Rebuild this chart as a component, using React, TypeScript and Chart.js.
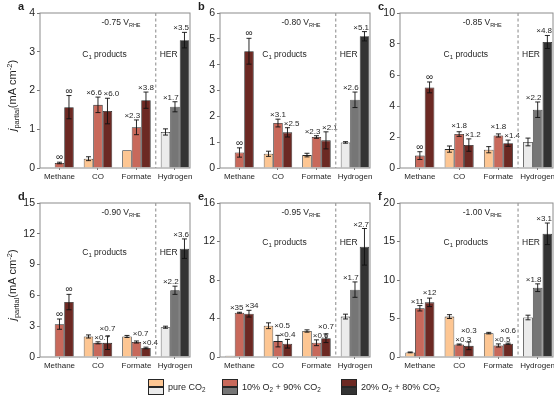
import { useEffect, useRef } from "react"
import { Chart, registerables } from "chart.js"

Chart.register(...registerables)

const FONT = '"Liberation Sans", Arial, Helvetica, sans-serif'
const INK = "#1f1f1f"

const products = ["Methane", "CO", "Formate", "Hydrogen"]
const potentials = ["-0.75", "-0.80", "-0.85", "-0.90", "-0.95", "-1.00"]
const panelLetters = ["a", "b", "c", "d", "e", "f"]
const yMax = [4, 6, 10, 15, 16, 20]
const yStep = [1, 1, 2, 3, 4, 5]

// partial current densities (mA cm-2), one row per panel, columns follow `products`
const pureCO2 = [
  [0, 0.24, 0.46, 0.93],
  [0, 0.55, 0.5, 0.99],
  [0, 1.22, 1.18, 1.68],
  [0, 2.0, 2.0, 2.9],
  [0.13, 3.25, 2.7, 4.2],
  [0.6, 5.25, 3.1, 5.13],
]
const pureCO2Err = [
  [0, 0.05, 0, 0.08],
  [0, 0.1, 0.07, 0.03],
  [0, 0.2, 0.2, 0.25],
  [0, 0.15, 0.1, 0.1],
  [0, 0.3, 0.12, 0.25],
  [0.05, 0.25, 0.1, 0.3],
]
const o2Ten = [
  [0.13, 1.63, 1.05, 1.58],
  [0.6, 1.74, 1.2, 2.64],
  [0.8, 2.19, 2.1, 3.76],
  [3.2, 1.38, 1.46, 6.5],
  [4.6, 1.65, 1.48, 7.0],
  [6.33, 1.62, 1.5, 9.0],
]
const o2TenErr = [
  [0.02, 0.2, 0.19, 0.13],
  [0.18, 0.15, 0.05, 0.3],
  [0.25, 0.15, 0.1, 0.5],
  [0.5, 0.1, 0.1, 0.4],
  [0.05, 0.6, 0.3, 0.8],
  [0.35, 0.07, 0.2, 0.5],
]
const o2Twenty = [
  [1.57, 1.47, 1.75, 3.3],
  [4.52, 1.38, 1.07, 5.1],
  [5.2, 1.48, 1.6, 8.13],
  [5.35, 1.38, 0.88, 10.55],
  [4.5, 1.38, 1.95, 11.45],
  [7.1, 1.45, 1.72, 16.0],
]
const o2TwentyErr = [
  [0.3, 0.33, 0.21, 0.2],
  [0.5, 0.18, 0.33, 0.18],
  [0.35, 0.4, 0.2, 0.42],
  [0.75, 0.65, 0.08, 0.95],
  [0.35, 0.45, 0.45, 1.9],
  [0.55, 0.5, 0.08, 1.4],
]
// enhancement factors printed above the O2-containing bars
const o2TenRatio = [
  ["∞", "×6.6", "×2.3", "×1.7"],
  ["∞", "×3.1", "×2.3", "×2.6"],
  ["∞", "×1.8", "×1.8", "×2.2"],
  ["∞", "×0.7", "×0.7", "×2.2"],
  ["×35", "×0.5", "×0.6", "×1.7"],
  ["×11", "×0.3", "×0.5", "×1.8"],
]
const o2TwentyRatio = [
  ["∞", "×6.0", "×3.8", "×3.5"],
  ["∞", "×2.5", "×2.1", "×5.1"],
  ["∞", "×1.2", "×1.4", "×4.8"],
  ["∞", "×0.7", "×0.4", "×3.6"],
  ["×34", "×0.4", "×0.7", "×2.7"],
  ["×12", "×0.3", "×0.6", "×3.1"],
]

const PEACH = "#FDC693"
const SALMON = "#C8695B"
const MAROON = "#6C2923"
const LIGHT_GRAY = "#EBEBEB"
const MID_GRAY = "#767676"
const DARK_GRAY = "#333333"

// plot-area rectangles in page pixels
const panelBoxes = [
  { left: 40, top: 13, right: 190, bottom: 168 },
  { left: 220, top: 13, right: 370, bottom: 168 },
  { left: 400, top: 13, right: 553, bottom: 168 },
  { left: 40, top: 203, right: 190, bottom: 357 },
  { left: 220, top: 203, right: 370, bottom: 357 },
  { left: 400, top: 203, right: 553, bottom: 357 },
]
const c1TextDrop = [44, 44, 44, 52, 42, 42]

const X_MIN = -0.506
const X_MAX = 3.39
const PAD_L = 40
const PAD_T = 13
const PAD_R = 8
const PAD_B = 20
const Y_W = 22
const X_H = 18

type Part = { t: string; size: number; dy?: number; style?: string }

function drawParts(ctx: CanvasRenderingContext2D, parts: Part[], x: number, y: number, align: "left" | "center") {
  let total = 0
  for (const p of parts) {
    ctx.font = `${p.style ?? ""} ${p.size}px ${FONT}`
    total += ctx.measureText(p.t).width
  }
  let cx = align === "center" ? x - total / 2 : x
  ctx.textAlign = "left"
  ctx.textBaseline = "alphabetic"
  for (const p of parts) {
    ctx.font = `${p.style ?? ""} ${p.size}px ${FONT}`
    ctx.fillText(p.t, cx, y + (p.dy ?? 0))
    cx += ctx.measureText(p.t).width
  }
  return total
}

function makeDecor(idx: number) {
  return {
    id: "decor" + idx,
    afterDatasetsDraw(chart: any) {
      const ctx: CanvasRenderingContext2D = chart.ctx
      const area = chart.chartArea
      const xs = chart.scales.x
      const ys = chart.scales.y
      const w = area.right - area.left
      const metas = chart.data.datasets.map((_: any, d: number) => chart.getDatasetMeta(d))
      ctx.save()

      // error bars
      ctx.strokeStyle = "#111"
      ctx.lineWidth = 0.9
      chart.data.datasets.forEach((ds: any, d: number) => {
        metas[d].data.forEach((bar: any, i: number) => {
          const v = ds.data[i].y
          const e = ds.errors[i]
          if (!e) return
          const y1 = ys.getPixelForValue(v + e)
          const y2 = ys.getPixelForValue(v - e)
          ctx.beginPath()
          ctx.moveTo(bar.x, y1)
          ctx.lineTo(bar.x, y2)
          ctx.moveTo(bar.x - 2.5, y1)
          ctx.lineTo(bar.x + 2.5, y1)
          ctx.moveTo(bar.x - 2.5, y2)
          ctx.lineTo(bar.x + 2.5, y2)
          ctx.stroke()
        })
      })

      // ratio labels, nudged so they stay off taller neighbouring bars and each other
      const labels: any[] = []
      chart.data.datasets.forEach((ds: any, d: number) => {
        if (!ds.ratios) return
        metas[d].data.forEach((bar: any, i: number) => {
          const txt = ds.ratios[i]
          if (!txt) return
          const size = txt === "∞" ? 10 : 8
          ctx.font = `${size}px ${FONT}`
          const tw = ctx.measureText(txt).width
          const top = ys.getPixelForValue(ds.data[i].y + (ds.errors[i] || 0))
          const l = { txt, size, w: tw, x: bar.x, y: top - 2, group: i, d, moved: false }
          const left = metas[d - 1]?.data[i]
          const right = metas[d + 1]?.data[i]
          if (right && right.y < l.y && l.x + l.w / 2 > right.x - right.width / 2 - 1) {
            l.x = right.x - right.width / 2 - 1 - l.w / 2
            l.moved = true
          }
          if (left && left.y < l.y && l.x - l.w / 2 < left.x + left.width / 2 + 1) {
            l.x = left.x + left.width / 2 + 1 + l.w / 2
            l.moved = true
          }
          labels.push(l)
        })
      })
      for (let i = 0; i < products.length; i++) {
        const a = labels.find((l) => l.group === i && l.d === 1)
        const b = labels.find((l) => l.group === i && l.d === 2)
        if (!a || !b || Math.abs(a.y - b.y) >= 8) continue
        const need = (a.w + b.w) / 2 + 1.5 - (b.x - a.x)
        if (need <= 0) continue
        if (!a.moved && !b.moved) {
          a.x -= need / 2
          b.x += need / 2
        } else if (a.y <= b.y) {
          a.y = b.y - 9
        } else {
          b.y = a.y - 9
        }
      }
      ctx.fillStyle = INK
      ctx.textAlign = "center"
      ctx.textBaseline = "alphabetic"
      for (const l of labels) {
        let x = l.x
        if (x + l.w / 2 > area.right - 1) x = area.right - 1 - l.w / 2
        ctx.font = `${l.size}px ${FONT}`
        ctx.fillText(l.txt, x, l.y)
      }

      // frame
      ctx.strokeStyle = "#8c8c8c"
      ctx.lineWidth = 1
      ctx.strokeRect(area.left, area.top, w, area.bottom - area.top)

      // divider between C1 products and HER
      const dx = xs.getPixelForValue(2.5)
      ctx.strokeStyle = "#9c9c9c"
      ctx.lineWidth = 1.2
      ctx.setLineDash([3, 2.5])
      ctx.beginPath()
      ctx.moveTo(dx, area.top)
      ctx.lineTo(dx, area.bottom)
      ctx.stroke()
      ctx.setLineDash([])

      ctx.fillStyle = INK
      drawParts(
        ctx,
        [
          { t: `${potentials[idx]} V`, size: 8.5 },
          { t: "RHE", size: 5.5, dy: 2 },
        ],
        area.left + 0.41 * w,
        area.top + 12,
        "left"
      )
      const base = area.top + c1TextDrop[idx]
      drawParts(
        ctx,
        [
          { t: "C", size: 8.5 },
          { t: "1", size: 6, dy: 2 },
          { t: " products", size: 8.5 },
        ],
        area.left + 0.43 * w,
        base,
        "center"
      )
      drawParts(ctx, [{ t: "HER", size: 8.5 }], dx + 4, base, "left")

      // panel letter
      drawParts(ctx, [{ t: panelLetters[idx], size: 11, style: "bold" }], area.left - 22, area.top - 3, "left")

      // y-axis title on the left column
      if (idx % 3 === 0) {
        ctx.translate(area.left - 24, (area.top + area.bottom) / 2 + 5)
        ctx.rotate(-Math.PI / 2)
        drawParts(
          ctx,
          [
            { t: "j", size: 11, style: "italic" },
            { t: "partial", size: 7.5, dy: 3 },
            { t: "(mA cm", size: 11 },
            { t: "-2", size: 7.5, dy: -4.5 },
            { t: ")", size: 11 },
          ],
          0,
          0,
          "center"
        )
      }
      ctx.restore()
    },
  }
}

function Panel({ idx }: { idx: number }) {
  const canvasRef = useRef<HTMLCanvasElement>(null)
  const box = panelBoxes[idx]
  const width = box.right - box.left + PAD_L + PAD_R
  const height = box.bottom - box.top + PAD_T + PAD_B

  useEffect(() => {
    if (!canvasRef.current) return
    const ctx = canvasRef.current.getContext("2d")
    if (!ctx) return

    const series = [
      { label: "pure CO2", values: pureCO2, errs: pureCO2Err, ratios: null, colors: [PEACH, PEACH, PEACH, LIGHT_GRAY] },
      { label: "10% O2 + 90% CO2", values: o2Ten, errs: o2TenErr, ratios: o2TenRatio, colors: [SALMON, SALMON, SALMON, MID_GRAY] },
      { label: "20% O2 + 80% CO2", values: o2Twenty, errs: o2TwentyErr, ratios: o2TwentyRatio, colors: [MAROON, MAROON, MAROON, DARK_GRAY] },
    ]

    const chart = new Chart(ctx, {
      type: "bar",
      data: {
        datasets: series.map((s) => ({
          label: s.label,
          data: s.values[idx].map((y, i) => ({ x: i, y })),
          backgroundColor: s.colors,
          borderColor: "#262626",
          borderWidth: 0.8,
          categoryPercentage: 0.74,
          barPercentage: 1,
          errors: s.errs[idx],
          ratios: s.ratios ? s.ratios[idx] : null,
        })) as any,
      },
      options: {
        responsive: false,
        animation: false,
        events: [],
        layout: { padding: { left: PAD_L - Y_W, top: PAD_T, right: PAD_R, bottom: PAD_B - X_H } },
        plugins: { legend: { display: false }, tooltip: { enabled: false } },
        scales: {
          x: {
            type: "linear",
            min: X_MIN,
            max: X_MAX,
            bounds: "data",
            offset: false,
            afterBuildTicks: (scale: any) => {
              scale.ticks = products.map((_, i) => ({ value: i }))
              scale.min = X_MIN
              scale.max = X_MAX
            },
            afterFit: (scale: any) => {
              scale.height = X_H
            },
            ticks: {
              autoSkip: false,
              maxRotation: 0,
              minRotation: 0,
              padding: 2,
              color: INK,
              font: { family: FONT, size: 8 },
              callback: (v: any) => products[v] ?? "",
            },
            grid: { display: true, offset: false, drawOnChartArea: false, drawTicks: true, tickLength: 2, color: "#777" },
            border: { display: false },
          },
          y: {
            min: 0,
            max: yMax[idx],
            afterFit: (scale: any) => {
              scale.width = Y_W
            },
            ticks: {
              stepSize: yStep[idx],
              padding: 2,
              color: INK,
              font: { family: FONT, size: 10.5 },
            },
            grid: { display: true, drawOnChartArea: false, drawTicks: true, tickLength: 3, color: "#777" },
            border: { display: false },
          },
        },
      },
      plugins: [makeDecor(idx)],
    })

    return () => {
      chart.destroy()
    }
  }, [idx])

  return (
    <canvas
      ref={canvasRef}
      width={width}
      height={height}
      style={{ position: "absolute", left: box.left - PAD_L, top: box.top - PAD_T, width, height }}
    />
  )
}

const swatch = (color: string) => (
  <div style={{ width: 16, height: 8, background: color, border: "0.8px solid #262626", boxSizing: "border-box" }} />
)

function LegendItem({ left, top, bottom, children }: { left: number; top: string; bottom: string; children: any }) {
  return (
    <div style={{ position: "absolute", left, top: 379, display: "flex", alignItems: "center", gap: 4 }}>
      <div style={{ display: "flex", flexDirection: "column" }}>
        {swatch(top)}
        {swatch(bottom)}
      </div>
      <span style={{ fontSize: 9, color: INK, whiteSpace: "nowrap" }}>{children}</span>
    </div>
  )
}

const subStyle = { fontSize: "70%", verticalAlign: "-0.3em", lineHeight: 0 }

export default function App() {
  return (
    <div
      style={{
        position: "absolute",
        left: 0,
        top: 0,
        width: 554,
        height: 401,
        overflow: "hidden",
        background: "#fff",
        fontFamily: FONT,
      }}
    >
      {panelBoxes.map((_, i) => (
        <Panel key={i} idx={i} />
      ))}
      <LegendItem left={148} top={PEACH} bottom={LIGHT_GRAY}>
        pure CO<sub style={subStyle}>2</sub>
      </LegendItem>
      <LegendItem left={222} top={SALMON} bottom={MID_GRAY}>
        10% O<sub style={subStyle}>2</sub> + 90% CO<sub style={subStyle}>2</sub>
      </LegendItem>
      <LegendItem left={341} top={MAROON} bottom={DARK_GRAY}>
        20% O<sub style={subStyle}>2</sub> + 80% CO<sub style={subStyle}>2</sub>
      </LegendItem>
    </div>
  )
}
